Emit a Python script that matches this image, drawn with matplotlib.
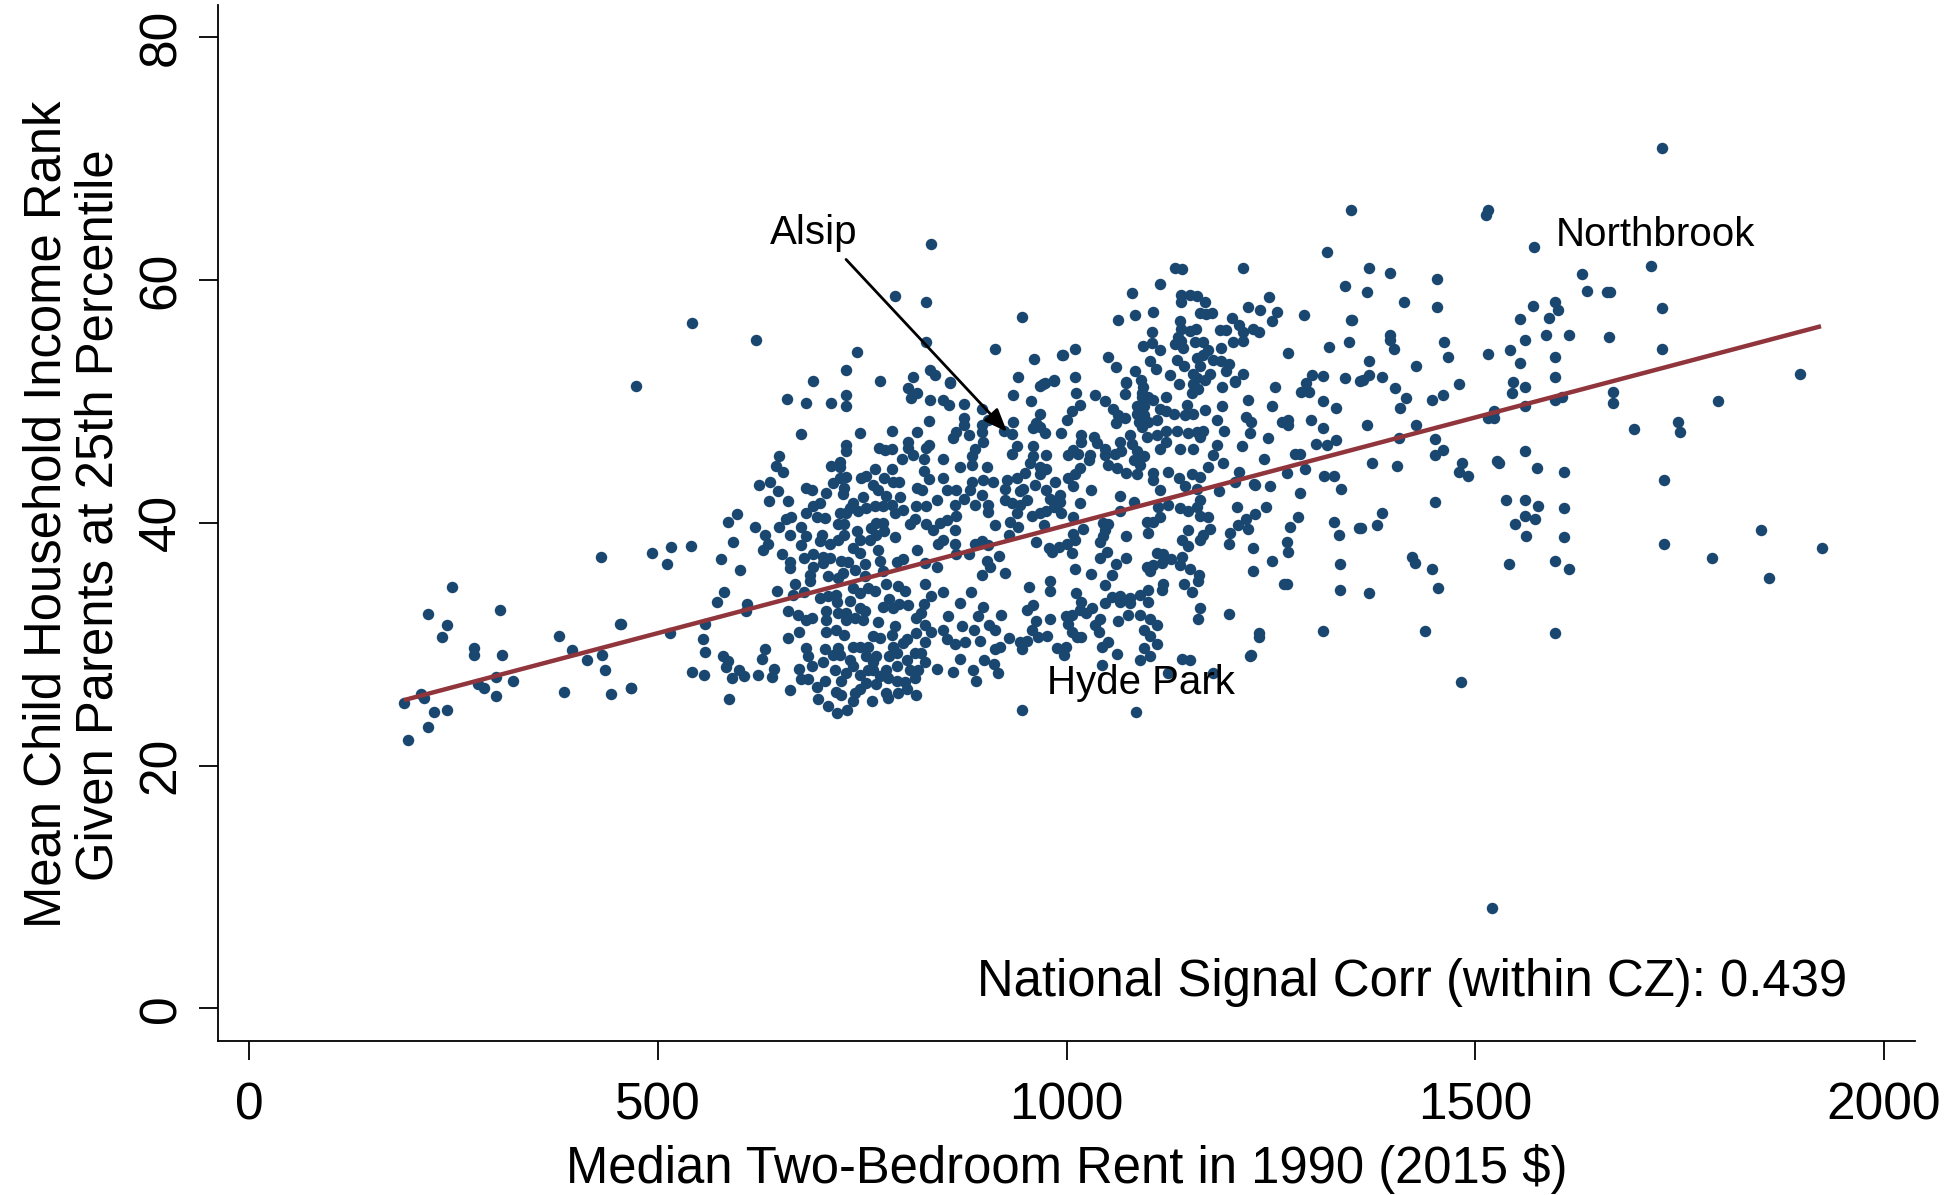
import numpy as np
import matplotlib
matplotlib.use("Agg")
import matplotlib.pyplot as plt

plt.rcParams['font.family'] = ['Liberation Sans', 'DejaVu Sans']

# (rent, rank), split by area of the plot
pts_left = [(248,34.7),(218,32.5),(242,31.6),(235,30.6),(307,32.8),(275,29.7),(275,29.1),(309,29.1),(302,27.3),(323,27),
    (280,26.7),(287,26.4),(302,25.7),(210,25.9),(213,25.6),(189,25.2),(226,24.4),(242,24.6),(219,23.2),(194,22.1),
    (379,30.7),(395,29.5),(413,28.7),(431,29.1),(435,27.9),(454,31.7),(385,26.1),(442,25.9),(467,26.4),(430,37.2)]

pts_top_left = [(834,63),(790,58.7),(828,58.2),(945,57),(541,56.5),(620,55.1),(828,54.9),(743,54.1),(912,54.3),(960,53.5),
    (994,53.8),(730,52.6),(833,52.6),(839,52.2),(812,52),(857,51.6),(689,51.7),(772,51.7),(941,52),(985,51.7),
    (973,51.5),(967,51.3),(473,51.3),(806,51.1)]

pts_mid_left = [(658,50.2),(681,49.9),(712,49.9),(730,50.5),(730,49.6),(675,47.3),(747,47.4),(786,47.6),(817,47.5),(832,48.4),
    (817,50.7),(810,50.3),(833,50.1),(730,46.4),(730,45.9),(770,46.2),(786,46.1),(778,46),(806,46.7),(806,46.2),
    (812,45.6),(832,46.4),(828,46.2),(825,45.3),(798,45.3),(648,45.5),(644,44.7),(653,44.2),(712,44.7),(722,45),
    (722,44.6),(765,44.4),(786,44.4),(825,44.3),(831,43.6),(637,43.4),(624,43.1),(647,42.6),(636,41.8),(659,41.8),
    (681,42.9),(688,42.7),(705,42.5),(714,43.3),(722,43.7),(730,43.8),(728,42.9),(726,42.4),(748,43.7),(754,43.9),
    (777,43.7),(788,43.4),(795,43.4),(763,43.1),(769,42.7),(817,42.9),(823,42.7),(596,40.7),(586,40.1),(618,39.7),
    (592,38.4),(577,37),(631,39),(634,38.3),(628,37.8),(600,36.1),(493,37.5),(511,36.6),(516,38),(540,38.1),
    (648,39.7),(656,40.3),(663,40.5),(661,39),(652,37.4),(661,36.8),(661,36.3),(675,39.7),(675,38.2),(681,40.8),
    (689,41.4),(698,41.6),(694,40.5),(704,40.4),(681,38.9),(700,39),(710,38.3),(698,38.5),(722,40.8),(720,39.9),
    (728,39.9),(728,39),(720,38.6),(679,37.1),(690,37.4),(702,37.2),(710,37.1),(702,36.7),(724,36.9),(732,36.8),
    (689,36.4),(686,35.7),(686,35.2),(708,35.6),(720,35.5),(726,35.9),(730,40.8),(739,41.6),(751,42.1),(735,41.2),
    (745,41),(755,41.2),(765,41.4),(779,42.2),(796,42.1),(800,41.1),(775,41.4),(790,40.8),(786,41.5),(767,40),
    (775,40),(761,39.6),(777,39.3),(767,39),(759,38.6),(816,41.4),(828,41.4),(841,41.9),(808,39.9),(814,40.3),
    (828,39.9),(837,39.4),(843,38.3),(739,37.9),(747,37.5),(753,36.6),(743,39.3),(747,38.6),(769,37.8),(772,36.9),
    (790,38.8),(817,37.8),(792,36.8),(800,37),(826,36.7),(841,36.4)]

pts_low_left = [(667,35),(646,34.4),(665,34.1),(678,34.3),(581,34.3),(572,33.5),(609,33.3),(608,32.7),(558,31.7),(514,30.9),
    (455,31.7),(555,30.4),(557,29.4),(580,29),(586,28.6),(583,28.1),(542,27.7),(556,27.5),(467,26.4),(587,25.5),
    (590,27.2),(599,27.9),(605,27.4),(631,29.6),(627,28.8),(642,28),(622,27.5),(639,27.3),(659,32.7),(671,32.4),
    (681,32),(688,32.2),(659,30.5),(673,31),(661,26.2),(681,29.7),(684,29),(673,28),(688,28.2),(675,27.1),
    (684,27.1),(704,29.6),(702,28.5),(714,29.1),(720,29.7),(722,29.1),(694,26.5),(704,27),(696,25.5),(708,24.9),
    (719,24.3),(731,24.6),(717,27.9),(724,27),(718,26.1),(724,25.8),(698,33.8),(708,34),(718,34.1),(719,33.5),
    (735,33.6),(747,34.2),(739,34.6),(757,34.6),(766,34.4),(706,32.7),(705,32),(705,31),(718,31.2),(728,30.8),
    (720,32.6),(730,32.6),(730,32),(741,32.2),(747,33),(751,32),(753,32.7),(741,36.1),(753,35.6),(775,36),
    (779,35),(793,34.8),(802,34.4),(826,35),(834,34),(775,33.1),(783,33.7),(788,33),(795,33.3),(806,33.2),
    (769,31.8),(790,31.5),(786,30.8),(816,32.2),(822,32.6),(825,33.3),(826,31.6),(834,31),(816,30.9),(826,30.2),
    (804,30.4),(739,29.8),(735,28.7),(739,28.2),(730,27.6),(747,27.5),(757,27.9),(763,28.5),(767,29),(763,30.7),
    (771,30.5),(757,29.8),(788,29.8),(783,29),(792,29.3),(804,28.7),(814,29.3),(822,29.3),(826,28.5),(818,27.9),
    (808,27.9),(792,28.2),(779,27.9),(755,26.8),(767,26.7),(747,26.3),(741,26),(739,25.3),(762,25.3),(779,26),
    (781,25.6),(794,26),(804,26.3),(815,25.8),(802,26.9),(792,27),(781,27.2),(814,27.2),(841,28),(771,27.4),
    (763,27.9),(755,29),(747,29.8),(800,30.1)]

pts_mid_centre = [(857,51.5),(849,50.1),(856,49.7),(874,49.8),(874,48.6),(874,48.1),(896,49.4),(934,50.5),(956,50),(971,51.4),
    (1011,50.7),(1035,50.5),(1071,50.6),(1073,51.5),(967,49),(963,48.2),(959,47.8),(967,47.9),(973,47.4),(934,48.3),
    (933,47.3),(923,47.6),(904,48.5),(896,48.1),(896,47.5),(880,47.2),(865,47.5),(861,47),(1000,48.5),(1006,49.2),
    (1016,49.7),(993,47.4),(1018,47.2),(1018,46.7),(1033,47.1),(1037,46.6),(1047,50),(1057,49.4),(1063,48.9),(1060,48.2),
    (1071,48.6),(1086,49.6),(1094,49.6),(1086,49),(1094,48.9),(1088,48.3),(1092,47.9),(1100,48.3),(1106,50.1),(1114,49.4),
    (1110,48.5),(1122,49.2),(1131,49),(1147,49.7),(1155,49),(1145,48.9),(1153,50.7),(1161,51),(1190,51.2),(1169,49.3),
    (1190,49.6),(1184,48.5),(1206,51.6),(1222,50.1),(1220,48.7),(1226,48.3),(1224,47.4),(1193,47.6),(1215,46.3),(1191,44.9),
    (1167,47.6),(1159,47.5),(1149,47.4),(1135,47.6),(1122,47.6),(1110,47.2),(1098,47.1),(1122,46.7),(1139,46.1),(1155,46.1),
    (1163,47.1),(1184,46.4),(1179,45.6),(1114,46.1),(1092,50.7),(1092,50.4),(1122,50.4),(1100,50.4),(1077,47.2),(1080,46.5),
    (1086,45.9),(1094,45.5),(1082,45.2),(1090,44.8),(1086,44),(1073,44.1),(1061,44.5),(1051,44.8),(1065,46.7),(1067,45.9),
    (1059,45.7),(1047,46.1),(1047,45.6),(1002,45.6),(1008,46),(1014,45.7),(1029,45.6),(1027,45.2),(939,46.3),(933,45.7),
    (959,46.3),(959,45.5),(955,44.9),(975,45.6),(898,46.7),(888,46.1),(884,45.5),(884,44.8),(869,44.6),(902,44.6),
    (849,45.3),(967,44.6),(975,44.4),(967,44),(961,43.1),(949,44.1),(939,43.7),(927,43.5),(925,42.8),(947,42.8),
    (943,42.6),(986,43.4),(975,42.7),(980,42),(992,42.3),(992,41.7),(984,41.3),(1002,43.7),(1010,44),(1016,44.5),
    (1008,43),(1030,42.7),(1016,41.6),(993,40.8),(975,41),(967,40.8),(957,40.6),(910,43.4),(898,43.5),(884,43.4),
    (882,42.7),(865,42.7),(853,42.7),(849,43.7),(874,42),(863,41.5),(896,42.3),(888,41.5),(904,41.5),(904,40.9),
    (925,41.9),(933,41.6),(943,41.5),(952,41.9),(939,40.8),(931,40.1),(940,39.7),(972,39.8),(865,40.6),(853,40.2),
    (845,40),(863,39.4),(849,38.6),(863,38.3),(865,37.4),(880,37.4),(912,39.8),(929,39),(896,38.5),(888,38.3),
    (904,38.2),(962,38.4),(978,37.9),(982,37.6),(990,38),(1000,38.3),(1006,37.5),(1008,39.1),(1020,39.5),(1008,40.5),
    (1010,38.6),(917,37.3),(902,36.9),(906,36.4),(896,35.7),(925,35.9),(1010,36.2),(1030,35.8),(1055,35.7),(1047,34.9),
    (1065,42.2),(1065,41),(1082,41.7),(1045,40),(1051,39.9),(1047,39.4),(1041,38.4),(1045,38.9),(1073,38.9),(1099,39.2),
    (1098,40.1),(1106,40.1),(1114,40.5),(1112,41.3),(1124,41.5),(1114,42.7),(1106,44.1),(1106,43.5),(1124,44.2),(1137,43.7),
    (1145,43),(1159,42.8),(1163,41.9),(1159,41.3),(1149,41),(1139,41.2),(1163,40.6),(1173,40.5),(1186,42.6),(1153,44),
    (1163,43.8),(1173,44.6),(1206,43.4),(1211,44.2),(1230,43.1),(1208,41.3),(1230,40.7),(1220,40.3),(1209,39.8),(1200,39.2),
    (1198,38.3),(1222,39.5),(1228,37.9),(1175,39.5),(1167,39),(1163,38.6),(1149,39.4),(1141,38.6),(1149,38.1),(1049,37.6),
    (1041,37.1),(1060,36.6),(1073,37.1),(1098,36.4),(1102,36),(1110,37.5),(1118,37.4),(1106,36.5),(1116,36.7),(1128,37),
    (1141,37.2),(1139,36.5),(1151,36.2),(1162,35.7),(1161,35.2),(1143,35),(1153,34.3),(1118,35),(1117,34.5)]

pts_low_centre = [(1228,36),(1198,32.5),(1163,33),(1161,32.1),(1235,30.6),(1225,29.1),(980,35.2),(980,34.4),(954,34.7),(883,34.3),
    (849,34.3),(869,33.4),(897,33.1),(959,33.2),(952,32.8),(919,32.4),(892,32.3),(855,32.3),(1011,34.2),(1018,33.5),
    (1016,32.8),(1024,32.6),(1031,33),(1047,33.4),(1055,33.9),(1065,34),(1065,33.5),(1077,33.8),(1077,33.4),(1090,34.1),
    (1100,34.5),(1100,33.5),(1075,32.4),(1063,31.9),(1090,32.4),(1102,32.1),(1110,31.6),(1094,31.2),(1102,30.7),(1110,30),
    (1094,29.7),(1102,29),(1090,28.7),(1041,32.1),(1035,31.6),(1039,31),(1061,29.2),(1043,29.8),(1051,30.2),(1043,28.3),
    (999,32.3),(1006,32.4),(1002,31.7),(1006,31),(1012,30.6),(1018,30.6),(988,29.7),(999,29.8),(997,29.1),(979,32.1),
    (963,31.9),(957,31.2),(965,30.6),(976,30.7),(952,30.3),(943,30.2),(945,29.6),(929,30.5),(918,29.8),(912,29.6),
    (911,28.4),(916,27.6),(899,28.7),(905,31.6),(912,31.2),(886,31.2),(872,31.5),(894,30.3),(849,31.2),(853,30.4),
    (863,30),(869,28.8),(876,30.2),(861,27.7),(885,27.9),(889,27),(945,24.6),(1085,24.4),(1141,28.8),(1151,28.7),
    (1124,27.6),(1179,27.6)]

pts_top_centre = [(1319,62.3),(1216,61),(1133,61),(1141,60.9),(1341,59.5),(1114,59.7),(1080,58.9),(1140,58.8),(1140,58.2),(1151,58.8),
    (1159,58.7),(1169,58.2),(1163,57.3),(1170,57.2),(1178,57.3),(1106,57.4),(1083,57.1),(1063,56.7),(1222,57.8),(1236,57.5),
    (1248,58.6),(1257,57.4),(1251,56.6),(1202,56.9),(1211,56.3),(1228,56),(1235,55.7),(1216,55.7),(1216,55),(1204,54.9),
    (1290,57.1),(1348,56.7),(1345,54.9),(1321,54.5),(1271,54),(1187,55.9),(1195,55.9),(1139,56.6),(1140,56),(1158,56),
    (1151,55.8),(1104,55.7),(1136,55.3),(1140,55),(1132,54.7),(1142,54.4),(1093,54.6),(1104,54.8),(1114,54.2),(1157,54.9),
    (1167,54.9),(1173,54.2),(1167,53.8),(1159,53.6),(1189,54.4),(1135,53.4),(1102,53.3),(1109,52.7),(1060,52.8),(1051,53.7),
    (1010,54.3),(996,53.8),(1179,53.4),(1189,53.3),(1199,53.1),(1163,52.9),(1144,52.9),(1175,52.3),(1195,52.5),(1216,52.3),
    (1206,51.7),(1126,52.2),(1138,51.4),(1155,52.3),(1159,51.9),(1169,51.8),(1155,51.4),(1084,52.5),(1091,51.8),(1073,51.6),
    (1093,51.2),(1010,52),(985,51.8),(1255,51.2),(1300,52.2),(1313,52.1),(1293,51.5),(1287,50.8),(1296,50.8),(1341,51.9),
    (1359,51.7),(1251,49.6),(1313,50),(1329,49.5),(1263,48.3),(1271,48.5),(1271,48.1),(1299,48.5),(1313,47.8),(1246,47),
    (1241,45.3),(1305,46.5),(1319,46.4),(1329,46.8),(1279,45.7),(1286,45.7),(1292,44.4),(1315,43.9),(1327,43.9),(1270,44.1),
    (1249,43),(1286,42.5),(1336,42.8),(1229,43.2),(1244,41.3),(1283,40.5),(1273,39.7),(1327,40.1),(1333,39),(1358,39.6),
    (1270,38.4),(1271,37.6),(1251,36.9),(1334,36.6),(1270,35),(1266,35),(1235,30.9),(1224,29),(1313,31.1),(1335,34.5)]

pts_right = [(1728,70.9),(1348,65.8),(1515,65.8),(1513,65.4),(1572,62.7),(1715,61.2),(1370,61),(1396,60.6),(1453,60.1),(1367,59),
    (1413,58.2),(1453,57.8),(1631,60.5),(1637,59.1),(1661,59),(1665,59),(1728,57.7),(1598,58.2),(1601,57.5),(1590,56.9),
    (1571,57.9),(1555,56.8),(1349,56.7),(1396,55.5),(1396,55.1),(1401,54.3),(1462,54.9),(1466,53.7),(1516,53.9),(1543,54.2),
    (1555,53.2),(1561,55.1),(1586,55.5),(1615,55.5),(1664,55.3),(1728,54.3),(1598,53.7),(1370,53.3),(1427,52.9),(1370,52.2),
    (1362,51.8),(1386,52),(1402,51.1),(1480,51.4),(1546,51.6),(1561,51.2),(1598,52),(1545,50.7),(1415,50.3),(1447,50.1),
    (1460,50.5),(1408,49.5),(1668,50.8),(1668,49.9),(1606,50.4),(1598,50.1),(1561,49.6),(1523,49.2),(1516,48.6),(1523,48.6),
    (1367,48.1),(1427,48.1),(1407,47),(1694,47.7),(1451,46.9),(1460,46),(1451,45.6),(1561,45.9),(1373,44.9),(1404,44.7),
    (1484,44.9),(1480,44.2),(1491,43.9),(1527,45.1),(1529,44.9),(1576,44.5),(1609,44.2),(1731,43.5),(1451,41.7),(1386,40.8),
    (1380,39.8),(1360,39.6),(1537,41.9),(1561,41.9),(1577,41.4),(1609,41.2),(1561,40.6),(1573,40.3),(1549,39.9),(1562,38.9),
    (1609,38.8),(1731,38.3),(1423,37.2),(1426,36.7),(1447,36.2),(1541,36.6),(1598,36.9),(1615,36.2),(1454,34.6),(1370,34.2),
    (1438,31.1),(1598,30.9),(1483,26.9),(1520,8.3),(1897,52.3),(1797,50),(1748,48.3),(1750,47.5),(1849,39.4),(1789,37.1),
    (1924,37.9),(1859,35.5)]

fit_rent = [189, 1923]
fit_rank = [25.4, 56.2]

x_ticks = [0, 500, 1000, 1500, 2000]
y_ticks = [0, 20, 40, 60, 80]

points = np.array(pts_left + pts_top_left + pts_mid_left + pts_low_left + pts_mid_centre
                  + pts_low_centre + pts_top_centre + pts_right)

fig = plt.figure(figsize=(19.6, 11.95), dpi=100)
ax = fig.add_axes([218/1960, 1-1041/1195, (1915-218)/1960, (1041-5)/1195])

ax.scatter(points[:,0], points[:,1], s=68, color="#1a476f", linewidths=0, zorder=2)
ax.plot(fit_rent, fit_rank, color="#90353b", lw=3.2, solid_capstyle="butt", zorder=3)

ax.set_xlim(-38.5, 2038)
ax.set_ylim(-2.68, 82.66)
ax.spines['top'].set_visible(False)
ax.spines['right'].set_visible(False)
ax.spines['left'].set_linewidth(1.3)
ax.spines['bottom'].set_linewidth(1.3)

ax.set_xticks(x_ticks)
ax.set_yticks(y_ticks)
ax.tick_params(axis='x', length=14, width=1.3, labelsize=37, pad=15)
ax.tick_params(axis='y', length=14, width=1.3, labelsize=37, pad=9)
plt.setp(ax.get_yticklabels(), rotation=90, va='center')

ax.set_xlabel("Median Two-Bedroom Rent in 1990 (2015 $)", fontsize=36.6, labelpad=10)
ax.set_ylabel("Mean Child Household Income Rank\nGiven Parents at 25th Percentile", fontsize=36.6, linespacing=1.08)
ax.yaxis.set_label_coords(-0.0555, 0.508)

ax.text(637, 63.9, "Alsip", fontsize=29, va='center', zorder=4)
ax.text(976, 26.8, "Hyde Park", fontsize=29, va='center', zorder=4)
ax.text(1599, 63.7, "Northbrook", fontsize=29, va='center', zorder=4)
ax.text(890, 2.1, "National Signal Corr (within CZ): 0.439", fontsize=36.6, va='center', zorder=4)

ax.annotate("", xy=(927, 47.5), xytext=(730, 61.7), zorder=4,
            arrowprops=dict(arrowstyle="-|>,head_length=0.7,head_width=0.28", color="black", lw=2,
                            shrinkA=0, shrinkB=0, mutation_scale=20))

fig.savefig("out.png", dpi=100)
